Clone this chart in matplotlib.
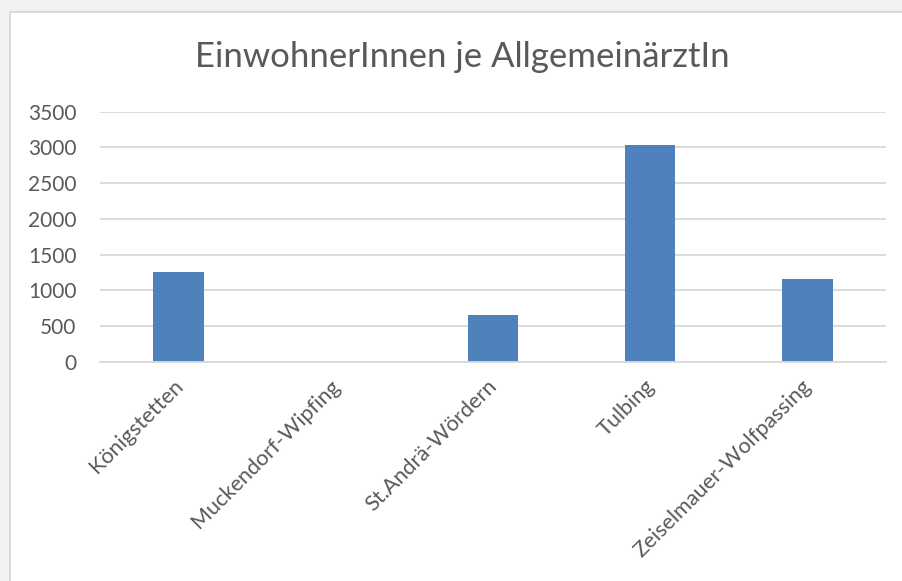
import matplotlib.pyplot as plt
import matplotlib.transforms as mtransforms
from matplotlib.patches import Rectangle

# data
gemeinden = ['Königstetten', 'Muckendorf-Wipfing', 'St.Andrä-Wördern', 'Tulbing', 'Zeiselmauer-Wolfpassing']
einwohner_je_arzt = [1252, 0, 654, 3028, 1155]
y_ticks = [0, 500, 1000, 1500, 2000, 2500, 3000, 3500]

title = 'EinwohnerInnen je AllgemeinärztIn'

# colours
bar_color = '#4F81BD'
grid_color = '#D9D9D9'
text_color = '#595959'
outer_bg = '#F2F2F2'

plt.rcParams['font.family'] = ['Lato', 'DejaVu Sans']

fig = plt.figure(figsize=(9.02, 5.81), dpi=100, facecolor=outer_bg)

# white chart area with thin grey border
W, H = 902, 581
chart_bg = Rectangle((10 / W, -0.05), 1.0, (H - 12) / H + 0.05, transform=fig.transFigure,
                     facecolor='white', edgecolor='#D4D4D4', linewidth=1.2, zorder=-10)
fig.patches.append(chart_bg)

ax = fig.add_axes([100 / W, (H - 361.7) / H, 786 / W, 250 / H])
ax.set_facecolor('none')

x = range(len(gemeinden))
ax.bar(x, einwohner_je_arzt, width=0.32, color=bar_color, zorder=3)

ax.set_xlim(-0.5, len(gemeinden) - 0.5)
ax.set_ylim(0, 3500)
ax.set_yticks(y_ticks)
ax.set_yticklabels([str(v) for v in y_ticks])
ax.grid(axis='y', color=grid_color, linewidth=1.3, zorder=0)
for side in ['top', 'right', 'left']:
    ax.spines[side].set_visible(False)
ax.spines['bottom'].set_color(grid_color)
ax.spines['bottom'].set_linewidth(1.3)
ax.spines['bottom'].set_zorder(4)

ax.tick_params(axis='y', length=0, pad=17, labelsize=15, labelcolor=text_color)
ax.tick_params(axis='x', length=0, pad=4, labelsize=15.6, labelcolor=text_color)

ax.set_xticks(list(x))
ax.set_xticklabels(gemeinden, rotation=45, ha='right', va='top', rotation_mode='anchor')
offset = mtransforms.ScaledTranslation(-6 / 100, -9 / 100, fig.dpi_scale_trans)
for lbl in ax.get_xticklabels():
    lbl.set_transform(lbl.get_transform() + offset)

fig.text(462 / W, (H - 57) / H, title, ha='center', va='center', fontsize=25,
         color=text_color)

fig.savefig('out.png', dpi=100, facecolor=outer_bg)
